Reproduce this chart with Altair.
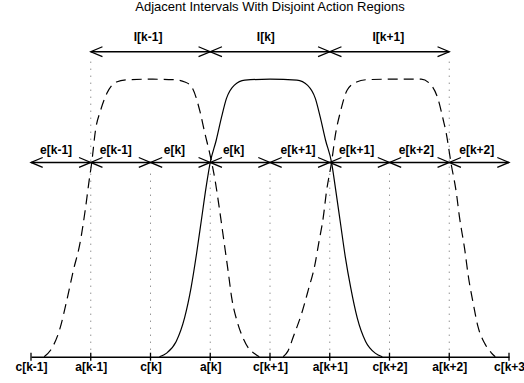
import json
import altair as alt
import pandas as pd

FONT = "Liberation Sans"

# Abscissa: c[k-1] .. c[k+3], one unit per half interval
tick_pos = [0, 1, 2, 3, 4, 5, 6, 7, 8]
tick_labels = ["c[k-1]", "a[k-1]", "c[k]", "a[k]", "c[k+1]",
               "a[k+1]", "c[k+2]", "a[k+2]", "c[k+3"]

# Interval arrows (top row)
interval_bounds = [1, 3, 5, 7]
interval_level = 1.099
interval_labels = ["I[k-1]", "I[k]", "I[k+1]"]
interval_label_x = [1.96, 3.93, 5.98]
interval_label_y = 1.136

# Half-interval arrows (middle row)
edge_bounds = [0, 1, 2, 3, 4, 5, 6, 7, 8]
edge_level = 0.70
edge_labels = ["e[k-1]", "e[k-1]", "e[k]", "e[k]",
               "e[k+1]", "e[k+1]", "e[k+2]", "e[k+2]"]
edge_label_x = [0.42, 1.42, 2.40, 3.39, 4.47, 5.45, 6.45, 7.46]
edge_label_y = 0.730

# Dotted guides
guide_tall_x = [1, 7]
guide_tall_top = 1.08
guide_short_x = [2, 3, 4, 5, 6]

# Action-region curves
left_x = [0.22, 0.33, 0.485, 0.60, 0.71, 0.82, 0.915, 0.97, 1.015, 1.08, 1.165,
          1.27, 1.43, 1.60, 2.0, 2.40, 2.575, 2.69, 2.83, 2.91, 2.99, 3.08,
          3.16, 3.23, 3.30, 3.36, 3.45, 3.55, 3.66, 3.75, 3.82]
left_y = [0.0, 0.024, 0.102, 0.204, 0.312, 0.409, 0.54, 0.63, 0.697, 0.817, 0.888,
          0.949, 0.99, 0.998, 1.0, 0.998, 0.99, 0.972, 0.882, 0.805, 0.734, 0.637,
          0.523, 0.415, 0.307, 0.211, 0.127, 0.067, 0.025, 0.01, 0.0]

mid_x = [2.15, 2.27, 2.43, 2.57, 2.68, 2.77, 2.85, 2.93, 3.00, 3.10, 3.19, 3.27,
         3.40, 3.58, 4.00, 4.45, 4.63, 4.76, 4.84, 4.93, 5.03, 5.10, 5.18, 5.26,
         5.35, 5.46, 5.60, 5.76, 5.88]
mid_y = [0.0, 0.013, 0.055, 0.14, 0.25, 0.37, 0.49, 0.61, 0.70, 0.78, 0.864, 0.93,
         0.978, 0.997, 1.0, 0.997, 0.978, 0.93, 0.864, 0.78, 0.70, 0.60, 0.48, 0.36,
         0.25, 0.14, 0.055, 0.013, 0.0]

right_x = [4.22, 4.30, 4.39, 4.53, 4.64, 4.75, 4.82, 4.89, 4.945, 5.03, 5.095,
           5.18, 5.29, 5.45, 5.60, 6.0, 6.53, 6.67, 6.81, 6.90, 6.95, 7.03, 7.12,
           7.17, 7.26, 7.32, 7.40, 7.48, 7.59, 7.70, 7.77]
right_y = [0.0, 0.02, 0.072, 0.156, 0.24, 0.33, 0.415, 0.50, 0.595, 0.70, 0.80,
           0.884, 0.96, 0.99, 0.998, 1.0, 1.0, 0.985, 0.93, 0.853, 0.805, 0.697, 0.589,
           0.505, 0.385, 0.289, 0.193, 0.109, 0.049, 0.015, 0.0]

TITLE = "Adjacent Intervals With Disjoint Action Regions"
title_x = 4.0
title_y = 1.244

# ---------------------------------------------------------------------------
x_scale = alt.Scale(domain=[0, 8], nice=False, zero=False)
y_scale = alt.Scale(domain=[0, 1.2], nice=False, zero=False)
label_expr = json.dumps(tick_labels) + "[datum.value]"

x_axis = alt.Axis(values=tick_pos, labelExpr=label_expr, ticks=False, tickSize=0,
                  grid=False, domainColor="black", domainWidth=1.4,
                  labelFont=FONT, labelFontSize=12, labelFontWeight="bold",
                  labelColor="black", labelFlush=False, labelOverlap=False,
                  labelPadding=5, title=None)


def X(field="x"):
    return alt.X(f"{field}:Q", scale=x_scale, axis=x_axis)


def Y(field="y"):
    return alt.Y(f"{field}:Q", scale=y_scale, axis=None)


# tick marks crossing the axis baseline
axis_df = pd.DataFrame({"x": tick_pos, "y": [0.0] * len(tick_pos)})
axis_ticks = alt.Chart(axis_df).mark_tick(
    orient="vertical", size=8, thickness=1.3, color="black", opacity=1
).encode(x=X(), y=Y())

# dotted guides
guides_df = pd.DataFrame({
    "x": guide_tall_x + guide_short_x,
    "y": [0.0] * (len(guide_tall_x) + len(guide_short_x)),
    "y2": [guide_tall_top] * len(guide_tall_x) + [edge_level - 0.02] * len(guide_short_x),
})
guides = alt.Chart(guides_df).mark_rule(
    color="#666666", strokeWidth=1, strokeDash=[1, 6]
).encode(x=X(), y=Y(), y2="y2:Q")

# curves
curves_df = pd.concat([
    pd.DataFrame({"x": left_x, "y": left_y, "curve": "k-1", "style": "dashed"}),
    pd.DataFrame({"x": mid_x, "y": mid_y, "curve": "k", "style": "solid"}),
    pd.DataFrame({"x": right_x, "y": right_y, "curve": "k+1", "style": "dashed"}),
], ignore_index=True)
curves_df["i"] = range(len(curves_df))

solid_curve = alt.Chart(curves_df).transform_filter(
    alt.datum.style == "solid"
).mark_line(color="black", strokeWidth=1.2, interpolate="monotone").encode(
    x=X(), y=Y(), detail="curve:N", order="i:Q")

dashed_curves = alt.Chart(curves_df).transform_filter(
    alt.datum.style == "dashed"
).mark_line(color="black", strokeWidth=1.2, strokeDash=[10, 6],
            interpolate="monotone").encode(
    x=X(), y=Y(), detail="curve:N", order="i:Q")

# arrow shafts
shaft_df = pd.DataFrame({
    "x": [interval_bounds[0], edge_bounds[0]],
    "x2": [interval_bounds[-1], edge_bounds[-1]],
    "y": [interval_level, edge_level],
})
shafts = alt.Chart(shaft_df).mark_rule(color="black", strokeWidth=1.5).encode(
    x=X(), x2="x2:Q", y=Y())

# arrowheads: every bound gets a right-pointing head from the segment on its
# left and a left-pointing head from the segment on its right
heads = []
for bounds, level in [(interval_bounds, interval_level), (edge_bounds, edge_level)]:
    for j, b in enumerate(bounds):
        if j > 0:
            heads.append({"x": b, "y": level, "dir": "right"})
        if j < len(bounds) - 1:
            heads.append({"x": b, "y": level, "dir": "left"})
heads_df = pd.DataFrame(heads)

RIGHT_HEAD = "M-2,-0.85L0,0L-2,0.85"
LEFT_HEAD = "M2,-0.85L0,0L2,0.85"

right_heads = alt.Chart(heads_df).transform_filter(alt.datum.dir == "right").mark_point(
    shape=RIGHT_HEAD, size=137, filled=False, stroke="black", strokeWidth=1.3, opacity=1
).encode(x=X(), y=Y())
left_heads = alt.Chart(heads_df).transform_filter(alt.datum.dir == "left").mark_point(
    shape=LEFT_HEAD, size=137, filled=False, stroke="black", strokeWidth=1.3, opacity=1
).encode(x=X(), y=Y())

# labels
labels_df = pd.DataFrame({
    "x": interval_label_x + edge_label_x,
    "y": [interval_label_y] * len(interval_labels) + [edge_label_y] * len(edge_labels),
    "text": interval_labels + edge_labels,
})
labels = alt.Chart(labels_df).mark_text(
    font=FONT, fontSize=12, fontWeight="bold", color="black",
    align="center", baseline="alphabetic"
).encode(x=X(), y=Y(), text="text:N")

# heading above the arrows
title_df = pd.DataFrame({"x": [title_x], "y": [title_y], "text": [TITLE]})
heading = alt.Chart(title_df).mark_text(
    font=FONT, fontSize=13, color="black", align="center", baseline="alphabetic"
).encode(x=X(), y=Y(), text="text:N")

chart = alt.layer(
    guides, dashed_curves, solid_curve, shafts, left_heads, right_heads,
    labels, heading, axis_ticks
).properties(
    width=478,
    height=333,
    autosize=alt.AutoSizeParams(type="none"),
    padding={"left": 31, "top": 23.7, "right": 15, "bottom": 26.3},
).configure_view(stroke=None)

chart.save("out.html", embed_options={"renderer": "svg", "actions": False})
